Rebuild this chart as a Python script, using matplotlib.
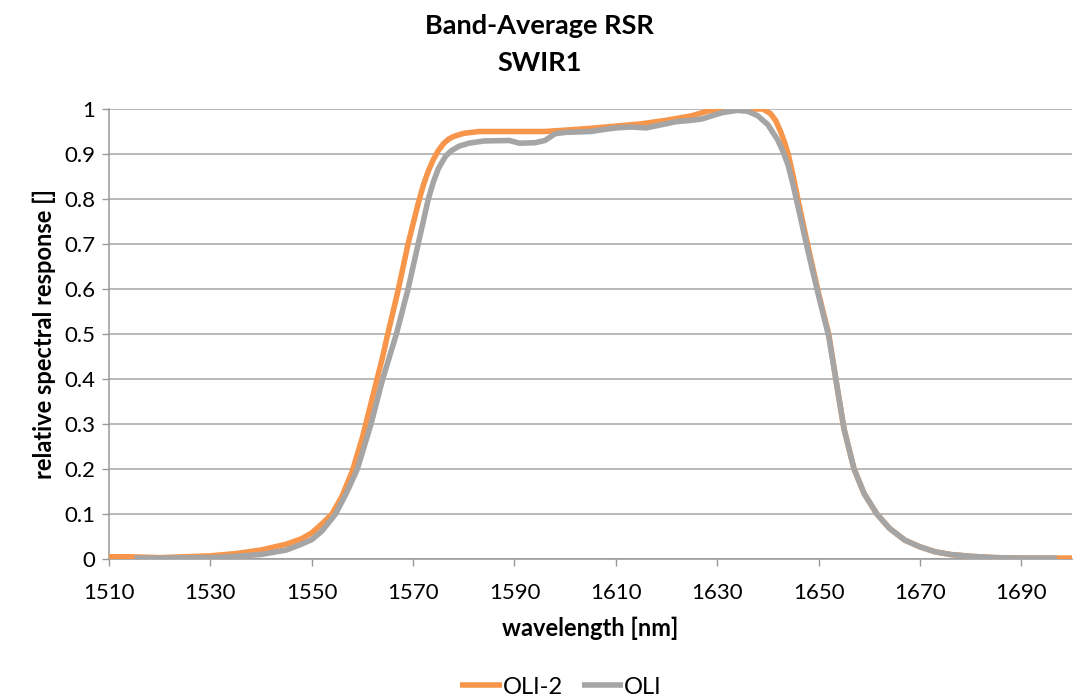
import matplotlib
matplotlib.use("Agg")
import matplotlib.pyplot as plt

# OLI-2 band-average relative spectral response, SWIR1
wl_oli2 = [1510, 1514, 1520, 1530, 1535, 1540, 1545, 1548, 1550, 1552, 1554, 1556,
           1558, 1560, 1562, 1564, 1565, 1567, 1569, 1571, 1572, 1573, 1574, 1575,
           1576, 1577, 1578, 1580, 1583, 1590, 1596, 1600, 1605, 1610, 1615, 1620,
           1625, 1628, 1630, 1635, 1639, 1640.5, 1641.5, 1642.5, 1643.3, 1644, 1645,
           1646, 1648, 1650, 1652, 1653.4, 1655, 1657, 1659, 1661.5, 1664, 1667, 1670,
           1673, 1676, 1680, 1685, 1690, 1700]
rsr_oli2 = [0.005, 0.005, 0.003, 0.007, 0.012, 0.02, 0.033, 0.045, 0.058, 0.078, 0.1, 0.14,
            0.195, 0.27, 0.36, 0.45, 0.5, 0.595, 0.7, 0.79, 0.83, 0.862, 0.888, 0.908,
            0.923, 0.933, 0.939, 0.946, 0.95, 0.95, 0.95, 0.953, 0.957, 0.962, 0.967, 0.975,
            0.985, 0.995, 0.999, 1.0, 1.0, 0.99, 0.975, 0.95, 0.925, 0.9, 0.85,
            0.795, 0.69, 0.59, 0.5, 0.4, 0.29, 0.2, 0.145, 0.1, 0.068, 0.042, 0.027,
            0.016, 0.01, 0.006, 0.003, 0.002, 0.002]

# OLI band-average relative spectral response, SWIR1
wl_oli = [1515, 1520, 1530, 1535, 1540, 1545, 1548, 1550, 1552, 1554.7, 1557, 1559,
          1561.7, 1564, 1566.7, 1569, 1571, 1573, 1574, 1575, 1576.4, 1577.5, 1579, 1581,
          1584, 1589, 1591, 1594, 1596, 1598, 1600, 1605, 1608, 1610, 1613, 1616, 1619,
          1622, 1625, 1627, 1629, 1631, 1634, 1636, 1638, 1640, 1642, 1643, 1644, 1645,
          1646, 1648, 1650, 1652, 1653.4, 1655, 1657, 1659, 1661.5, 1664, 1667, 1670,
          1673, 1676, 1680, 1685, 1690, 1697]
rsr_oli = [0.002, 0.002, 0.003, 0.006, 0.01, 0.02, 0.033, 0.043, 0.062, 0.1, 0.15, 0.2,
           0.3, 0.4, 0.5, 0.6, 0.7, 0.8, 0.838, 0.868, 0.895, 0.907, 0.917, 0.924,
           0.929, 0.93, 0.924, 0.925, 0.93, 0.945, 0.948, 0.95, 0.955, 0.958, 0.96, 0.958, 0.965,
           0.972, 0.975, 0.978, 0.985, 0.992, 0.997, 0.995, 0.985, 0.965, 0.93, 0.905, 0.875,
           0.83, 0.78, 0.68, 0.585, 0.495, 0.4, 0.29, 0.2, 0.145, 0.1, 0.068, 0.042, 0.027,
           0.016, 0.01, 0.006, 0.003, 0.002, 0.002]

x_ticks = list(range(1510, 1701, 20))
y_ticks = [0, 0.1, 0.2, 0.3, 0.4, 0.5, 0.6, 0.7, 0.8, 0.9, 1]
y_labels = ["0", "0.1", "0.2", "0.3", "0.4", "0.5", "0.6", "0.7", "0.8", "0.9", "1"]

plt.rcParams["font.family"] = ["Lato", "DejaVu Sans"]

fig = plt.figure(figsize=(10.79, 7.0), dpi=100)
ax = fig.add_axes([109 / 1079, 1 - 559 / 700, (1072 - 109) / 1079, (559 - 109) / 700])

ax.plot(wl_oli2, rsr_oli2, color="#F7964A", lw=4.0, solid_capstyle="butt",
        solid_joinstyle="round", label="OLI-2", zorder=3)
ax.plot(wl_oli, rsr_oli, color="#A5A5A5", lw=4.0, solid_capstyle="butt",
        solid_joinstyle="round", label="OLI", zorder=4)

ax.set_xlim(1510, 1700)
ax.set_ylim(0, 1)
ax.set_xticks(x_ticks)
ax.set_yticks(y_ticks)
ax.set_yticklabels(y_labels)
ax.tick_params(axis="both", labelsize=16, color="#999999", length=5, width=1)
ax.tick_params(axis="x", pad=12)
ax.tick_params(axis="y", pad=5)
ax.yaxis.grid(True, color="#A6A6A6", lw=1.1)
ax.set_axisbelow(True)

for side in ("top", "right"):
    ax.spines[side].set_visible(False)
for side in ("left", "bottom"):
    ax.spines[side].set_color("#999999")
    ax.spines[side].set_linewidth(1.1)

ax.set_xlabel("wavelength [nm]", fontsize=17, fontweight="bold", labelpad=10)
ax.set_ylabel("relative spectral response []", fontsize=17, fontweight="bold", labelpad=6)

fig.text(0.5, 1 - 26 / 700, "Band-Average RSR", ha="center", va="center",
         fontsize=19.5, fontweight="bold")
fig.text(0.5, 1 - 63 / 700, "SWIR1", ha="center", va="center",
         fontsize=19.5, fontweight="bold")

fig.legend(loc="center", bbox_to_anchor=(0.52, 1 - 687 / 700), ncol=2, frameon=False,
           fontsize=17, handlelength=1.75, handletextpad=0.05, columnspacing=0.8)

fig.savefig("out.png", dpi=100)
